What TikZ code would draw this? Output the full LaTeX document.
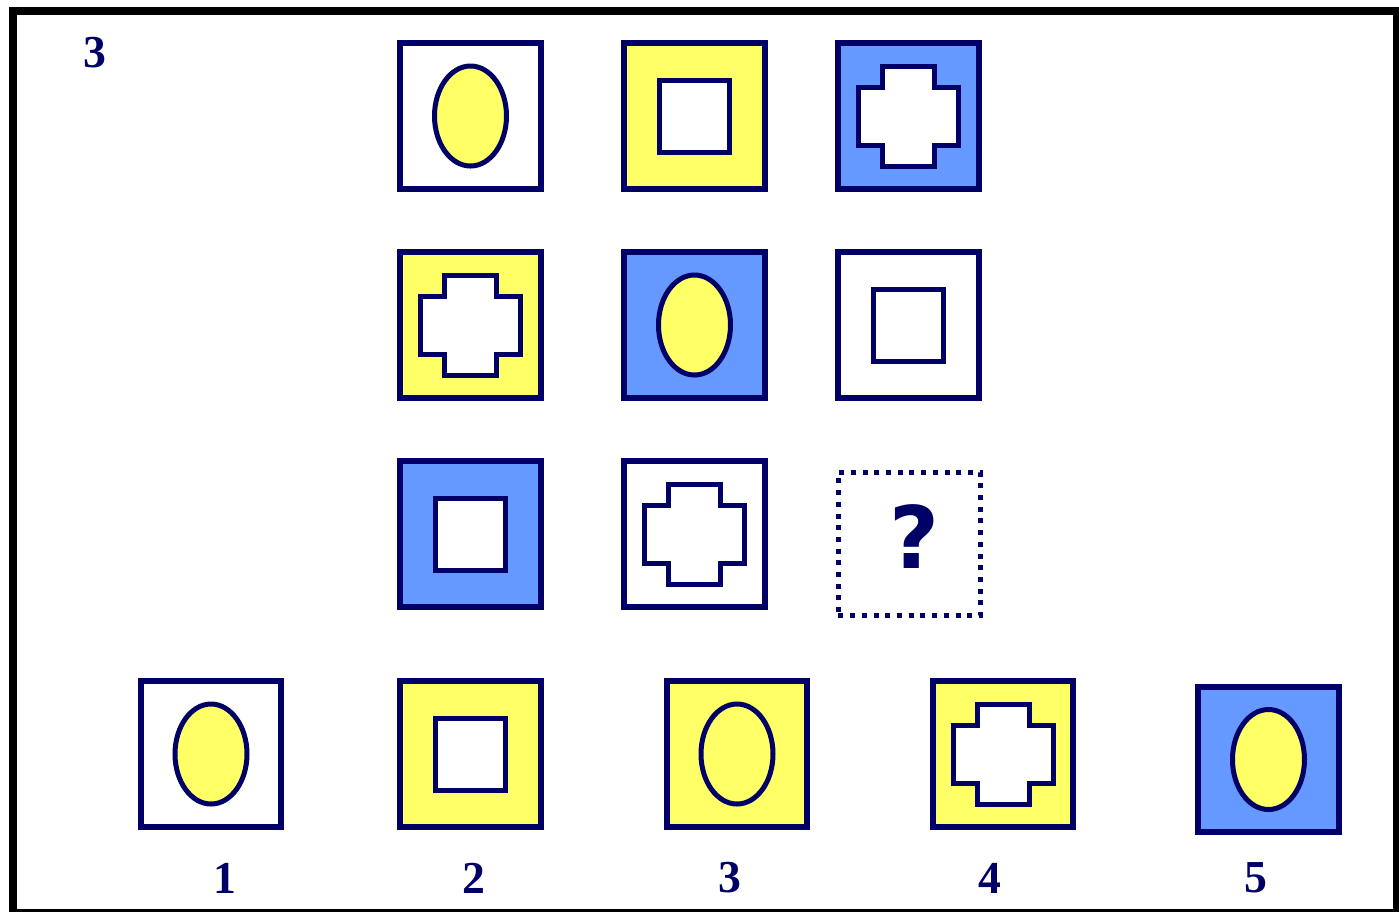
\documentclass[tikz,border=0pt]{standalone}
\usepackage{fontspec}
\setmainfont{Liberation Serif}
\newfontfamily\qfont{DejaVu Sans}
\usepackage{tikz}
\usetikzlibrary{positioning}
\usepackage{xcolor}

\definecolor{navy}{HTML}{000066}
\definecolor{yel}{HTML}{FFFF66}
\definecolor{sky}{HTML}{6699FF}

\tikzset{
  tile/.style={draw=navy, line width=0.06cm, minimum width=1.4cm, minimum height=1.45cm, inner sep=0pt},
  shapeline/.style={draw=navy, line width=0.05cm},
  num/.style={text=navy, font=\fontsize{13}{15}\selectfont\bfseries, inner sep=0pt}
}

% inner figures, drawn round a tile's centre
\newcommand{\ovalin}[1]{\draw[shapeline, fill=yel] (#1.center) ellipse [x radius=36, y radius=50];}
\newcommand{\squarein}[1]{\draw[shapeline, fill=white, shift={(#1.center)}] (-35,-36) rectangle (35,36);}
\newcommand{\crossin}[1]{\draw[shapeline, fill=white, shift={(#1.center)}]
  (-26,-50) -- (26,-50) -- (26,-29) -- (50,-29) -- (50,29) -- (26,29) -- (26,50)
  -- (-26,50) -- (-26,29) -- (-50,29) -- (-50,-29) -- (-26,-29) -- cycle;}

\begin{document}
\begin{tikzpicture}[x=0.01cm, y=-0.01cm]
  \useasboundingbox (0,0) rectangle (1399,911);
  \fill[white] (0,0) rectangle (1399,911);

  % outer frame
  \draw[line width=0.08cm] (13,10.5) rectangle (1397,913);

  % puzzle number
  \node[num] (title) at (95,53) {3};

  % row 1
  \node[tile, fill=white] (r1c1) at (470.5,116) {};
  \node[tile, fill=yel]   (r1c2) at (694.5,116) {};
  \node[tile, fill=sky]   (r1c3) at (908.5,116) {};
  \ovalin{r1c1}
  \squarein{r1c2}
  \crossin{r1c3}

  % row 2
  \node[tile, fill=yel]   (r2c1) at (470.5,325) {};
  \node[tile, fill=sky]   (r2c2) at (694.5,325) {};
  \node[tile, fill=white] (r2c3) at (908.5,325) {};
  \crossin{r2c1}
  \ovalin{r2c2}
  \squarein{r2c3}

  % row 3
  \node[tile, fill=sky]   (r3c1) at (470.5,534) {};
  \node[tile, fill=white] (r3c2) at (694.5,534) {};
  \squarein{r3c1}
  \crossin{r3c2}

  % missing tile
  \node[draw=navy, line width=0.045cm, dash pattern=on 0.05cm off 0.067cm,
        minimum width=1.42cm, minimum height=1.43cm, inner sep=0pt] (miss) at (909.5,544) {};
  \node[text=navy, font=\qfont\bfseries\fontsize{24.5}{28}\selectfont, inner sep=0pt] (qm) at (914,537) {?};

  % answers
  \node[tile, fill=white] (a1) at (211,754) {};
  \node[tile, fill=yel]   (a2) at (470.5,754) {};
  \node[tile, fill=yel]   (a3) at (737,754) {};
  \node[tile, fill=yel]   (a4) at (1003,754) {};
  \node[tile, fill=sky]   (a5) at (1268.5,759.5) {};
  \ovalin{a1}
  \squarein{a2}
  \ovalin{a3}
  \crossin{a4}
  \ovalin{a5}

  % answer numbers
  \node[num] (n1) at (225,878) {1};
  \node[num] (n2) at (474,878) {2};
  \node[num] (n3) at (730,878) {3};
  \node[num] (n4) at (990,878) {4};
  \node[num] (n5) at (1256,878) {5};
\end{tikzpicture}
\end{document}
